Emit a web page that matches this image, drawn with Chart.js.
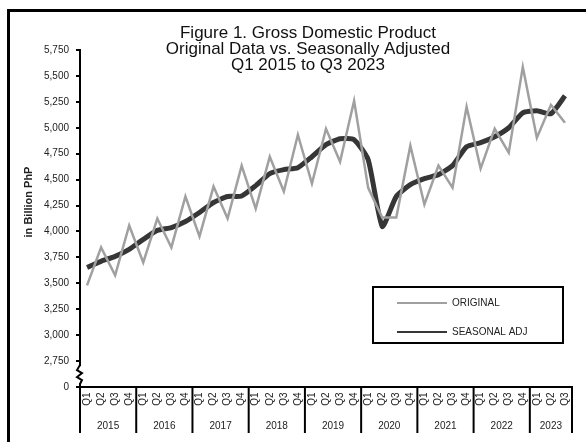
<!DOCTYPE html>
<html>
<head>
    <title>Gross Domestic Product - Original vs Seasonally Adjusted</title>
    <script src="https://cdn.jsdelivr.net/npm/chart.js"></script>
</head>
<body style="margin: 0; background-color: #ffffff; font-family: 'Liberation Sans', Arial, sans-serif;">
    <div style="position: relative; width: 586px; height: 442px;">
        <canvas id="gdpChart"></canvas>
    </div>

    <script>
        // quarterly labels, Q1 2015 to Q3 2023
        var quarters = ['Q1','Q2','Q3','Q4','Q1','Q2','Q3','Q4','Q1','Q2','Q3','Q4','Q1','Q2','Q3','Q4',
                        'Q1','Q2','Q3','Q4','Q1','Q2','Q3','Q4','Q1','Q2','Q3','Q4','Q1','Q2','Q3','Q4',
                        'Q1','Q2','Q3'];
        var years = ['2015','2016','2017','2018','2019','2020','2021','2022','2023'];
        var quartersPerYear = [4, 4, 4, 4, 4, 4, 4, 4, 3];

        // in billion PhP
        var original = [3480, 3846, 3577, 4058, 3702, 4125, 3846, 4337, 3952, 4433, 4125, 4635,
                        4221, 4721, 4385, 4933, 4462, 4990, 4673, 5260, 4420, 4135, 4135, 4827,
                        4260, 4635, 4423, 5202, 4606, 4990, 4760, 5587, 4904, 5221, 5048];
        var seasonal = [3654, 3712, 3760, 3827, 3923, 4010, 4038, 4096, 4183, 4279, 4337, 4342,
                        4442, 4558, 4596, 4615, 4721, 4837, 4894, 4885, 4692, 4048, 4337, 4452,
                        4510, 4548, 4635, 4817, 4856, 4913, 5000, 5144, 5164, 5135, 5308];

        var titleLines = ['Figure 1. Gross Domestic Product', 'Original Data vs. Seasonally Adjusted', 'Q1 2015 to Q3 2023'];
        var yTitle = 'in Billion PhP';
        var legendNames = ['ORIGINAL', 'SEASONAL ADJ'];

        var grayColor = '#a0a0a0';
        var darkColor = '#363636';
        var fontFamily = "'Liberation Sans', Arial, sans-serif";

        // frame, title, axis break, grouped x labels, legend
        var decorations = {
            id: 'decorations',
            afterDraw: function (chart) {
                var c = chart.ctx;
                var x = chart.scales.x;
                var y = chart.scales.y;
                var area = chart.chartArea;
                c.save();

                // outer frame (left and top visible)
                c.fillStyle = '#000';
                c.fillRect(7, 9, 3, 433);
                c.fillRect(7, 9, 579, 3);

                // title
                c.fillStyle = '#111';
                c.font = '17px ' + fontFamily;
                c.textAlign = 'center';
                c.textBaseline = 'middle';
                titleLines.forEach(function (line, i) {
                    c.fillText(line, 308, 33 + i * 16);
                });

                // y axis title
                c.save();
                c.translate(29, 202);
                c.rotate(-Math.PI / 2);
                c.font = 'bold 11px ' + fontFamily;
                c.fillStyle = '#222';
                c.fillText(yTitle, 0, 0);
                c.restore();

                // axis break between 2,750 and 0
                var yb1 = y.getPixelForValue(2750) + 5;
                var yb2 = area.bottom - 4;
                c.fillStyle = '#fff';
                c.fillRect(area.left - 4, yb1, 8, yb2 - yb1);
                c.strokeStyle = '#000';
                c.lineWidth = 2;
                c.beginPath();
                c.moveTo(area.left, yb1 - 1);
                c.lineTo(area.left - 3, yb1 + 4);
                c.lineTo(area.left + 2, yb1 + 7);
                c.lineTo(area.left - 3, yb1 + 11);
                c.lineTo(area.left + 2, yb1 + 14);
                c.lineTo(area.left, yb2 + 1);
                c.stroke();

                // quarter labels, year labels and group separators
                var w = x.width / quarters.length;
                c.fillStyle = '#222';
                c.font = '10px ' + fontFamily;
                quarters.forEach(function (q, i) {
                    var px = x.getPixelForValue(i);
                    c.save();
                    c.translate(px, area.bottom + 12);
                    c.rotate(-Math.PI / 2);
                    c.textAlign = 'center';
                    c.textBaseline = 'middle';
                    c.fillText(q, 0, 0);
                    c.restore();
                });

                var start = 0;
                c.strokeStyle = '#000';
                c.lineWidth = 2;
                c.textAlign = 'center';
                c.textBaseline = 'middle';
                years.forEach(function (yr, k) {
                    var n = quartersPerYear[k];
                    var left = x.getPixelForValue(start) - w / 2;
                    var right = x.getPixelForValue(start + n - 1) + w / 2;
                    c.beginPath();
                    c.moveTo(left, area.bottom);
                    c.lineTo(left, area.bottom + 46);
                    c.stroke();
                    if (k === years.length - 1) {
                        c.beginPath();
                        c.moveTo(right, area.bottom);
                        c.lineTo(right, area.bottom + 46);
                        c.stroke();
                    }
                    c.fillText(yr, (left + right) / 2, area.bottom + 39);
                    start += n;
                });

                // legend box
                c.fillStyle = '#fff';
                c.fillRect(373, 287, 190, 56);
                c.strokeStyle = '#000';
                c.lineWidth = 2;
                c.strokeRect(373, 287, 190, 56);
                var legendColors = [grayColor, darkColor];
                legendNames.forEach(function (name, i) {
                    var ly = 303 + i * 29;
                    c.strokeStyle = legendColors[i];
                    c.lineWidth = 2;
                    c.beginPath();
                    c.moveTo(397, ly);
                    c.lineTo(447, ly);
                    c.stroke();
                    c.fillStyle = '#222';
                    c.textAlign = 'left';
                    c.font = '10px ' + fontFamily;
                    c.fillText(name, 452, ly);
                });

                c.restore();
            }
        };

        var ctx = document.getElementById('gdpChart').getContext('2d');
        var gdpChart = new Chart(ctx, {
            type: 'line',
            data: {
                labels: quarters,
                datasets: [
                    {
                        label: legendNames[0],
                        data: original,
                        borderColor: grayColor,
                        borderWidth: 2.5,
                        pointRadius: 0,
                        tension: 0
                    },
                    {
                        label: legendNames[1],
                        data: seasonal,
                        borderColor: darkColor,
                        borderWidth: 5,
                        pointRadius: 0,
                        tension: 0.18
                    }
                ]
            },
            options: {
                responsive: true,
                maintainAspectRatio: false,
                animation: false,
                layout: {
                    padding: { top: 50, right: 14, bottom: 0, left: 0 }
                },
                scales: {
                    x: {
                        offset: true,
                        grid: { display: false },
                        border: { display: true, color: '#000', width: 2 },
                        ticks: { display: false },
                        afterFit: function (scale) { scale.height = 55; }
                    },
                    y: {
                        min: 2500,
                        max: 5750,
                        grid: {
                            drawOnChartArea: false,
                            drawTicks: true,
                            tickLength: 4,
                            color: '#000',
                            lineWidth: 2
                        },
                        border: { display: true, color: '#000', width: 2 },
                        ticks: {
                            stepSize: 250,
                            padding: 7,
                            color: '#222',
                            font: { size: 10, family: fontFamily },
                            callback: function (value) {
                                if (value === 2500) return '0';
                                return value.toLocaleString('en-US');
                            }
                        },
                        afterFit: function (scale) { scale.width = 80; }
                    }
                },
                plugins: {
                    legend: { display: false },
                    tooltip: { enabled: false }
                }
            },
            plugins: [decorations]
        });
    </script>
</body>
</html>
